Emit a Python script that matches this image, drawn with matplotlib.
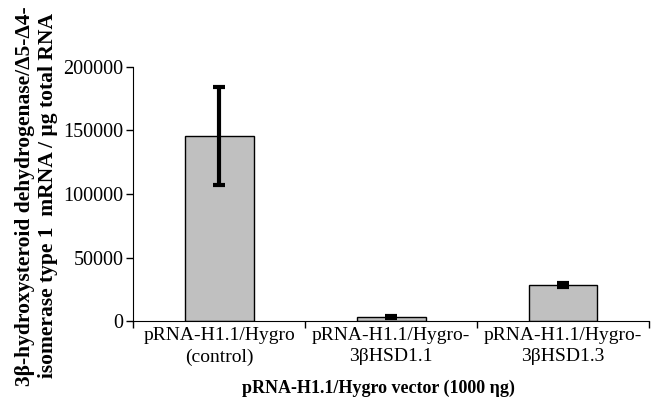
import matplotlib
matplotlib.use("Agg")
import matplotlib.pyplot as plt
import numpy as np

# donnees
categories = ["pRNA-H1.1/Hygro\n(control)", "pRNA-H1.1/Hygro-\n3βHSD1.1", "pRNA-H1.1/Hygro-\n3βHSD1.3"]
valeurs = [145500, 3300, 28300]
erreurs = [38500, 1000, 1300]

plt.rcParams['font.family'] = ['Liberation Serif', 'DejaVu Serif']

fig = plt.figure(figsize=(6.53, 4.08), dpi=100)
ax = fig.add_axes([0.204, 0.213, 0.790, 0.623])

x = np.arange(len(categories))
ax.bar(x, valeurs, width=0.4, color="#c0c0c0", edgecolor="black", linewidth=1)
ax.errorbar(x, valeurs, yerr=erreurs, fmt="none", ecolor="black", elinewidth=3,
            capsize=4, capthick=3)

ax.set_xlim(-0.5, 2.5)
ax.set_ylim(0, 200000)
ax.set_yticks([0, 50000, 100000, 150000, 200000])
ax.set_yticklabels(["0", "50000", "100000", "150000", "200000"], fontsize=14.5)
ax.tick_params(axis="y", direction="out", length=5, width=1, pad=2)

# ticks entre les categories
ax.set_xticks([-0.5, 0.5, 1.5, 2.5])
ax.set_xticklabels([])
ax.tick_params(axis="x", direction="out", length=5, width=1)
for i, lab in enumerate(categories):
    ax.text(i, -0.025, lab, transform=ax.get_xaxis_transform(), ha="center", va="top",
            fontsize=14, linespacing=1.3)

ax.spines["top"].set_visible(False)
ax.spines["right"].set_visible(False)

fig.text(0.579, 0.027, "pRNA-H1.1/Hygro vector (1000 ηg)", ha="center", va="bottom",
         fontsize=13, fontweight="bold")
fig.text(0.056, 0.52, "3β-hydroxysteroid dehydrogenase/Δ5-Δ4-\nisomerase type 1  mRNA / µg total RNA",
         rotation=90, ha="center", va="center", fontsize=15.5, fontweight="bold",
         linespacing=1.2)

fig.savefig("out.png", dpi=100)
